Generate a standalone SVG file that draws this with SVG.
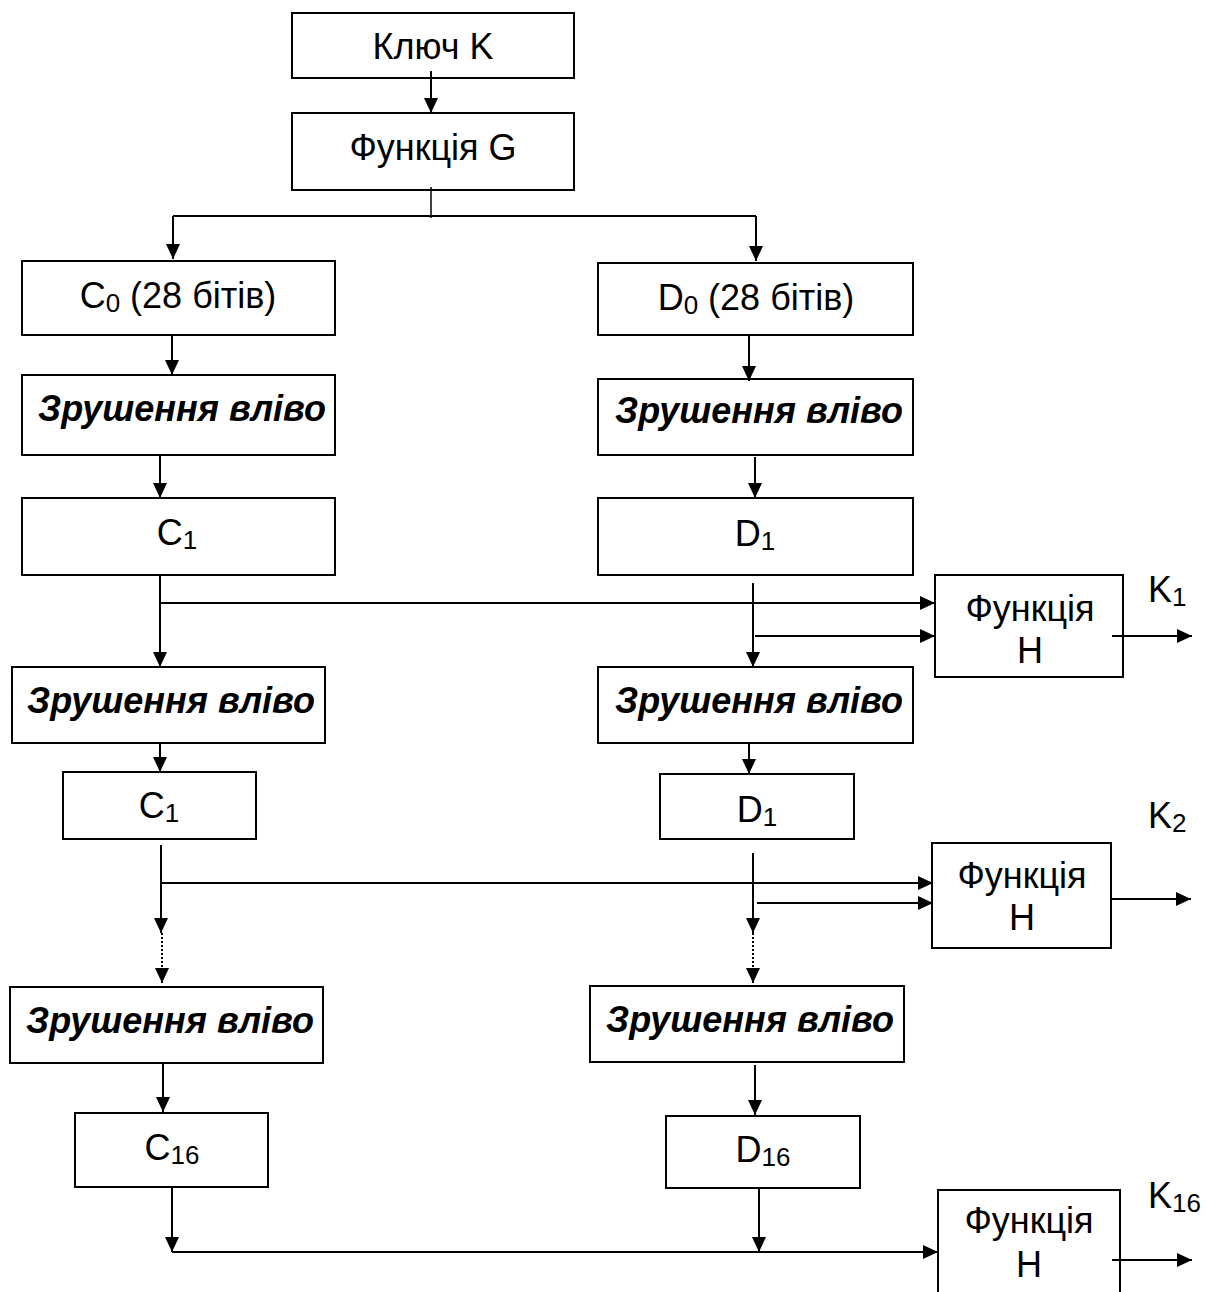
<svg xmlns="http://www.w3.org/2000/svg" width="1206" height="1292" viewBox="0 0 1206 1292">
<style>
.box{fill:#fff;stroke:#000;stroke-width:2}
.t{font-family:"Liberation Sans",Arial,sans-serif;font-size:36px;fill:#000;text-anchor:middle}
.s{font-style:italic;font-weight:bold}
.sub{font-size:26px}
.c{stroke:#000;stroke-width:2;fill:none}
.a{marker-end:url(#ah)}
.d{stroke-dasharray:2 2}
</style>
<defs>
<marker id="ah" markerUnits="userSpaceOnUse" markerWidth="16" markerHeight="14" refX="15" refY="7" orient="auto" viewBox="0 0 16 14">
<path d="M0,0 L15,7 L0,14 z" fill="#000"/>
</marker>
</defs>
<rect width="1206" height="1292" fill="#fff"/>
<g id="key"><rect class="box" x="292" y="13" width="282" height="65"/><text class="t" x="433" y="59">Ключ K</text></g>
<g id="funcG"><rect class="box" x="292" y="113" width="282" height="77"/><text class="t" x="433" y="160">Функція G</text></g>
<g id="c0"><rect class="box" x="22" y="261" width="313" height="74"/><text class="t" x="178" y="308">C<tspan class="sub" dy="4">0</tspan><tspan dy="-4"> (28 бітів)</tspan></text></g>
<g id="d0"><rect class="box" x="598" y="263" width="315" height="72"/><text class="t" x="756" y="310">D<tspan class="sub" dy="4">0</tspan><tspan dy="-4"> (28 бітів)</tspan></text></g>
<g id="shiftL1"><rect class="box" x="22" y="375" width="313" height="80"/><text class="t s" x="182" y="421">Зрушення вліво</text></g>
<g id="shiftR1"><rect class="box" x="598" y="379" width="315" height="76"/><text class="t s" x="759" y="423">Зрушення вліво</text></g>
<g id="c1a"><rect class="box" x="22" y="498" width="313" height="77"/><text class="t" x="177" y="545">C<tspan class="sub" dy="4">1</tspan></text></g>
<g id="d1a"><rect class="box" x="598" y="498" width="315" height="77"/><text class="t" x="755" y="546">D<tspan class="sub" dy="4">1</tspan></text></g>
<g id="funcH1"><rect class="box" x="935" y="575" width="188" height="102"/><text class="t" x="1030" y="621">Функція</text><text class="t" x="1030" y="663">H</text></g>
<g id="k1"><text class="t" x="1148" y="602" style="text-anchor:start">K<tspan class="sub" dy="4">1</tspan></text></g>
<g id="shiftL2"><rect class="box" x="12" y="667" width="313" height="76"/><text class="t s" x="171" y="713">Зрушення вліво</text></g>
<g id="shiftR2"><rect class="box" x="598" y="667" width="315" height="76"/><text class="t s" x="759" y="713">Зрушення вліво</text></g>
<g id="c1b"><rect class="box" x="63" y="772" width="193" height="67"/><text class="t" x="159" y="818">C<tspan class="sub" dy="4">1</tspan></text></g>
<g id="d1b"><rect class="box" x="660" y="774" width="194" height="65"/><text class="t" x="757" y="822">D<tspan class="sub" dy="4">1</tspan></text></g>
<g id="funcH2"><rect class="box" x="932" y="843" width="179" height="105"/><text class="t" x="1022" y="888">Функція</text><text class="t" x="1022" y="930">H</text></g>
<g id="k2"><text class="t" x="1148" y="828" style="text-anchor:start">K<tspan class="sub" dy="4">2</tspan></text></g>
<g id="shiftL3"><rect class="box" x="10" y="987" width="313" height="76"/><text class="t s" x="170" y="1033">Зрушення вліво</text></g>
<g id="shiftR3"><rect class="box" x="590" y="986" width="314" height="76"/><text class="t s" x="750" y="1032">Зрушення вліво</text></g>
<g id="c16"><rect class="box" x="75" y="1113" width="193" height="74"/><text class="t" x="172" y="1160">C<tspan class="sub" dy="4">16</tspan></text></g>
<g id="d16"><rect class="box" x="666" y="1116" width="194" height="72"/><text class="t" x="763" y="1162">D<tspan class="sub" dy="4">16</tspan></text></g>
<g id="funcH3"><path class="box" d="M938,1300 V1190 H1120 V1300"/><text class="t" x="1029" y="1233">Функція</text><text class="t" x="1029" y="1277">H</text></g>
<g id="k16"><text class="t" x="1148" y="1208" style="text-anchor:start">K<tspan class="sub" dy="4">16</tspan></text></g>
<g id="connectors">
<line class="c a" x1="431" y1="71" x2="431" y2="113"/>
<line class="c" style="stroke-width:1.5" x1="431" y1="187" x2="431" y2="218"/>
<line class="c" x1="173" y1="216" x2="756" y2="216"/>
<line class="c a" x1="173" y1="216" x2="173" y2="259"/>
<line class="c a" x1="756" y1="216" x2="756" y2="261"/>
<line class="c a" x1="172" y1="335" x2="172" y2="375"/>
<line class="c a" x1="749" y1="335" x2="749" y2="381"/>
<line class="c a" x1="160" y1="455" x2="160" y2="498"/>
<line class="c a" x1="755" y1="457" x2="755" y2="498"/>
<line class="c a" x1="160" y1="575" x2="160" y2="667"/>
<line class="c a" x1="160" y1="603" x2="935" y2="603"/>
<line class="c a" x1="753" y1="583" x2="753" y2="667"/>
<line class="c a" x1="755" y1="636" x2="935" y2="636"/>
<line class="c a" x1="1112" y1="636" x2="1192" y2="636"/>
<line class="c a" x1="160" y1="743" x2="160" y2="772"/>
<line class="c a" x1="749" y1="743" x2="749" y2="774"/>
<line class="c a" x1="161" y1="845" x2="161" y2="933"/>
<line class="c a d" x1="162" y1="933" x2="162" y2="983"/>
<line class="c a" x1="161" y1="883" x2="933" y2="883"/>
<line class="c a" x1="753" y1="853" x2="753" y2="933"/>
<line class="c a d" x1="753" y1="933" x2="753" y2="983"/>
<line class="c a" x1="757" y1="903" x2="933" y2="903"/>
<line class="c a" x1="1111" y1="899" x2="1191" y2="899"/>
<line class="c a" x1="163" y1="1063" x2="163" y2="1112"/>
<line class="c a" x1="755" y1="1065" x2="755" y2="1115"/>
<line class="c a" x1="172" y1="1187" x2="172" y2="1252"/>
<line class="c a" x1="172" y1="1252" x2="938" y2="1252"/>
<line class="c a" x1="759" y1="1188" x2="759" y2="1252"/>
<line class="c a" x1="1112" y1="1260" x2="1192" y2="1260"/>
</g>
</svg>
